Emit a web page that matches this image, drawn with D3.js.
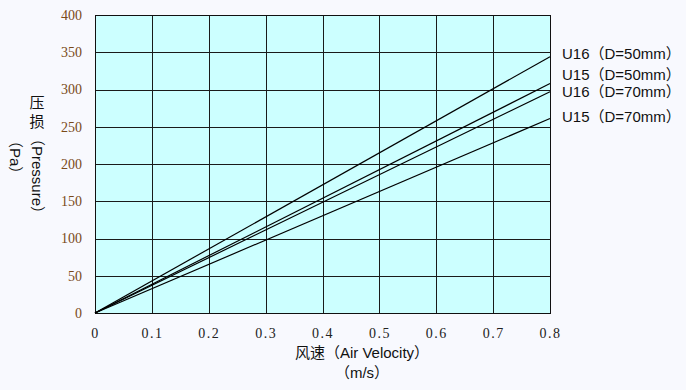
<!DOCTYPE html>
<meta charset="utf-8">
<title>Pressure vs Air Velocity</title>
<style>
  body { margin: 0; background: #f8f9fe; }
  svg { display: block; }
  .lbl { font-family: "Liberation Sans", "Noto Sans CJK SC", sans-serif; font-size: 15px; fill: #111; }
  .tick text { font-family: "Liberation Serif", "DejaVu Serif", serif; font-size: 14px; }
</style>
<body>
<script src="https://cdn.jsdelivr.net/npm/d3@7"></script>
<script>

var width = 686,
    height = 390,
    margin = {top: 15, right: 136, bottom: 77, left: 95};

// data: pressure (Pa) at 0 and 0.8 m/s, lines are straight from origin
var velocity = [0, 0.8];
var seriesNames = ["U16（D=50mm）", "U15（D=50mm）", "U16（D=70mm）", "U15（D=70mm）"];
var seriesValues = [
  [0, 344],
  [0, 308],
  [0, 297],
  [0, 261]
];
var labelY = [54, 75, 92, 117];   // label positions, pixels (labels were spaced apart)
var xTicks = [0, 0.1, 0.2, 0.3, 0.4, 0.5, 0.6, 0.7, 0.8];
var yTicks = [0, 50, 100, 150, 200, 250, 300, 350, 400];

var svg = d3.select("body").append("svg")
  .attr("width", width)
  .attr("height", height);

var w = width - margin.left - margin.right,
    h = height - margin.top - margin.bottom;

var x = d3.scaleLinear().domain([0, 0.8]).range([0, w]);
var y = d3.scaleLinear().domain([0, 400]).range([h, 0]);

var g = svg.append("g")
  .attr("transform", "translate(" + margin.left + "," + margin.top + ")");

g.append("rect")
  .attr("width", w)
  .attr("height", h)
  .attr("fill", "#ccffff");

// grid
g.selectAll("line.vg").data(xTicks).enter().append("line")
  .attr("class", "vg")
  .attr("x1", d => Math.round(x(d)) + 0.5).attr("x2", d => Math.round(x(d)) + 0.5)
  .attr("y1", 0).attr("y2", h)
  .attr("stroke", "#1a1a1a").attr("stroke-width", 1);

g.selectAll("line.hg").data(yTicks).enter().append("line")
  .attr("class", "hg")
  .attr("y1", d => Math.round(y(d)) + 0.5).attr("y2", d => Math.round(y(d)) + 0.5)
  .attr("x1", 0).attr("x2", w)
  .attr("stroke", "#1a1a1a").attr("stroke-width", 1);

g.append("rect")
  .attr("x", 0.5).attr("y", 0.5)
  .attr("width", w).attr("height", h)
  .attr("fill", "none").attr("stroke", "#111");

// axes (labels only)
var xAxis = g.append("g")
  .attr("transform", "translate(0," + h + ")")
  .call(d3.axisBottom(x).tickValues(xTicks).tickSize(0).tickPadding(15)
    .tickFormat(d => d === 0 ? "0" : d3.format(".1f")(d)));
xAxis.select(".domain").remove();
xAxis.selectAll("text").attr("fill", "#222").attr("letter-spacing", "1.5px");

var yAxis = g.append("g")
  .call(d3.axisLeft(y).tickValues(yTicks).tickSize(0).tickPadding(13));
yAxis.select(".domain").remove();
yAxis.selectAll("text").attr("fill", "#7a4a18");

// lines
var line = d3.line()
  .x((d, i) => x(velocity[i]))
  .y(d => y(d));

g.selectAll("path.series").data(seriesValues).enter().append("path")
  .attr("class", "series")
  .attr("d", line)
  .attr("fill", "none")
  .attr("stroke", "#000")
  .attr("stroke-width", 1.2);

// series labels
svg.selectAll("text.series").data(seriesNames).enter().append("text")
  .attr("class", "lbl")
  .attr("x", 562)
  .attr("y", (d, i) => labelY[i])
  .attr("dy", "0.35em")
  .text(d => d);

// x title
svg.append("text").attr("class", "lbl")
  .attr("x", 362).attr("y", 353).attr("dy", "0.35em")
  .attr("text-anchor", "middle")
  .text("风速（Air  Velocity）");
svg.append("text").attr("class", "lbl")
  .attr("x", 362).attr("y", 373).attr("dy", "0.35em")
  .attr("text-anchor", "middle")
  .text("（m/s）");

// y title: CJK upright, latin rotated
svg.append("text").attr("class", "lbl")
  .attr("x", 37).attr("y", 103).attr("dy", "0.35em")
  .attr("text-anchor", "middle").text("压");
svg.append("text").attr("class", "lbl")
  .attr("x", 37).attr("y", 122).attr("dy", "0.35em")
  .attr("text-anchor", "middle").text("损");
svg.append("text").attr("class", "lbl")
  .attr("transform", "translate(37,131) rotate(90)")
  .attr("dy", "0.35em")
  .text("（Pressure）");
svg.append("text").attr("class", "lbl")
  .attr("transform", "translate(15,133) rotate(90)")
  .attr("dy", "0.35em")
  .text("（Pa）");

</script>
</body>
